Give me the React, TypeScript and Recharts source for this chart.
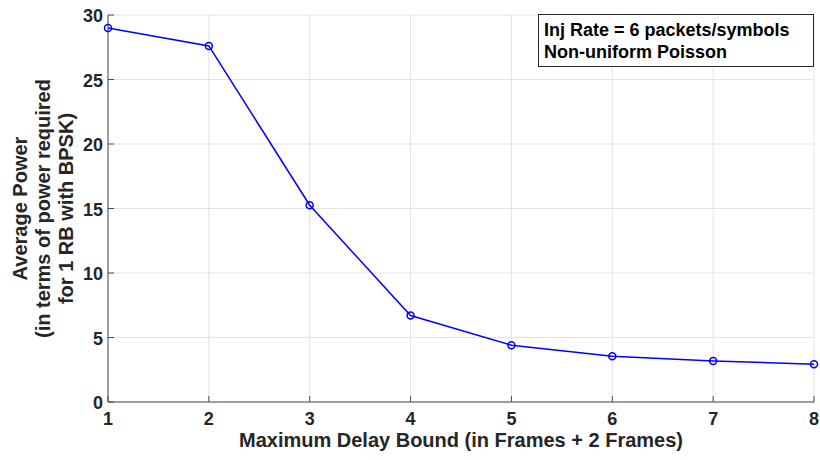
import { LineChart, Line, XAxis, YAxis, CartesianGrid } from 'recharts'

// maximum delay bound (frames) vs. average power
const delayBounds = [1, 2, 3, 4, 5, 6, 7, 8]
const avgPower = [29.0, 27.6, 15.25, 6.7, 4.4, 3.55, 3.18, 2.93]
const xTicks = [1, 2, 3, 4, 5, 6, 7, 8]
const yTicks = [0, 5, 10, 15, 20, 25, 30]
const yLabelLines = ['Average Power', '(in terms of power required', 'for 1 RB with BPSK)']
const xLabel = 'Maximum Delay Bound (in Frames + 2 Frames)'
const noteLines = ['Inj Rate = 6 packets/symbols', 'Non-uniform Poisson']

const data = delayBounds.map((d, i) => ({ delay: d, power: avgPower[i] }))

const FONT = '"Liberation Sans", Arial, Helvetica, sans-serif'
const AXIS = '#4d4d4d'
const TEXT = '#262626'

function XTick({ x, y, payload }: any) {
  return (
    <g>
      <line x1={x} y1={y} x2={x} y2={y - 6} stroke={AXIS} strokeWidth={1} />
      <text x={x} y={y + 23} textAnchor="middle" fontFamily={FONT} fontSize={18} fontWeight="bold" fill={TEXT}>
        {payload.value}
      </text>
    </g>
  )
}

function YTick({ x, y, payload }: any) {
  return (
    <g>
      <line x1={x} y1={y} x2={x + 6} y2={y} stroke={AXIS} strokeWidth={1} />
      <text x={x - 5} y={y + 7} textAnchor="end" fontFamily={FONT} fontSize={18} fontWeight="bold" fill={TEXT}>
        {payload.value}
      </text>
    </g>
  )
}

function YLabel({ viewBox }: any) {
  const cy = viewBox.y + viewBox.height / 2
  const cx = 50
  return (
    <text transform={`rotate(-90, ${cx}, ${cy})`} x={cx} y={cy} textAnchor="middle"
      fontFamily={FONT} fontSize={20} fontWeight="bold" fill={TEXT}>
      {yLabelLines.map((t, i) => (
        <tspan key={i} x={cx} y={cy - 23 + i * 23}>{t}</tspan>
      ))}
    </text>
  )
}

function XLabel({ viewBox }: any) {
  const cx = viewBox.x + viewBox.width / 2
  return (
    <text x={cx} y={447} textAnchor="middle" fontFamily={FONT} fontSize={20} fontWeight="bold" fill={TEXT}>
      {xLabel}
    </text>
  )
}

export default function App() {
  return (
    <div style={{ position: 'absolute', left: 0, top: 0, width: 820, height: 460, background: '#fff' }}>
      <LineChart width={820} height={460} data={data} margin={{ top: 15, right: 6, bottom: 28, left: 68 }}>
        <CartesianGrid stroke="#e3e3e3" strokeWidth={1} />
        <XAxis
          dataKey="delay"
          type="number"
          domain={[1, 8]}
          ticks={xTicks}
          height={30}
          tickLine={false}
          tickSize={0}
          tickMargin={0}
          tick={<XTick />}
          axisLine={{ stroke: AXIS, strokeWidth: 1 }}
          label={<XLabel />}
        />
        <YAxis
          type="number"
          domain={[0, 30]}
          ticks={yTicks}
          width={40}
          tickLine={false}
          tickSize={0}
          tickMargin={0}
          tick={<YTick />}
          axisLine={{ stroke: AXIS, strokeWidth: 1 }}
          label={<YLabel />}
        />
        <Line
          dataKey="power"
          type="linear"
          stroke="#0000ff"
          strokeWidth={1.5}
          dot={{ r: 3.5, stroke: '#0000ff', strokeWidth: 1.5, fill: 'none' }}
          isAnimationActive={false}
        />
      </LineChart>
      <div
        style={{
          position: 'absolute', left: 538, top: 14, width: 276, height: 53,
          border: '1px solid #262626', background: '#fff',
          fontFamily: FONT, fontSize: 18, fontWeight: 'bold', color: '#000',
          padding: '4px 0 0 5px', boxSizing: 'border-box', lineHeight: '22px',
        }}
      >
        {noteLines.map((t, i) => <div key={i}>{t}</div>)}
      </div>
    </div>
  )
}
